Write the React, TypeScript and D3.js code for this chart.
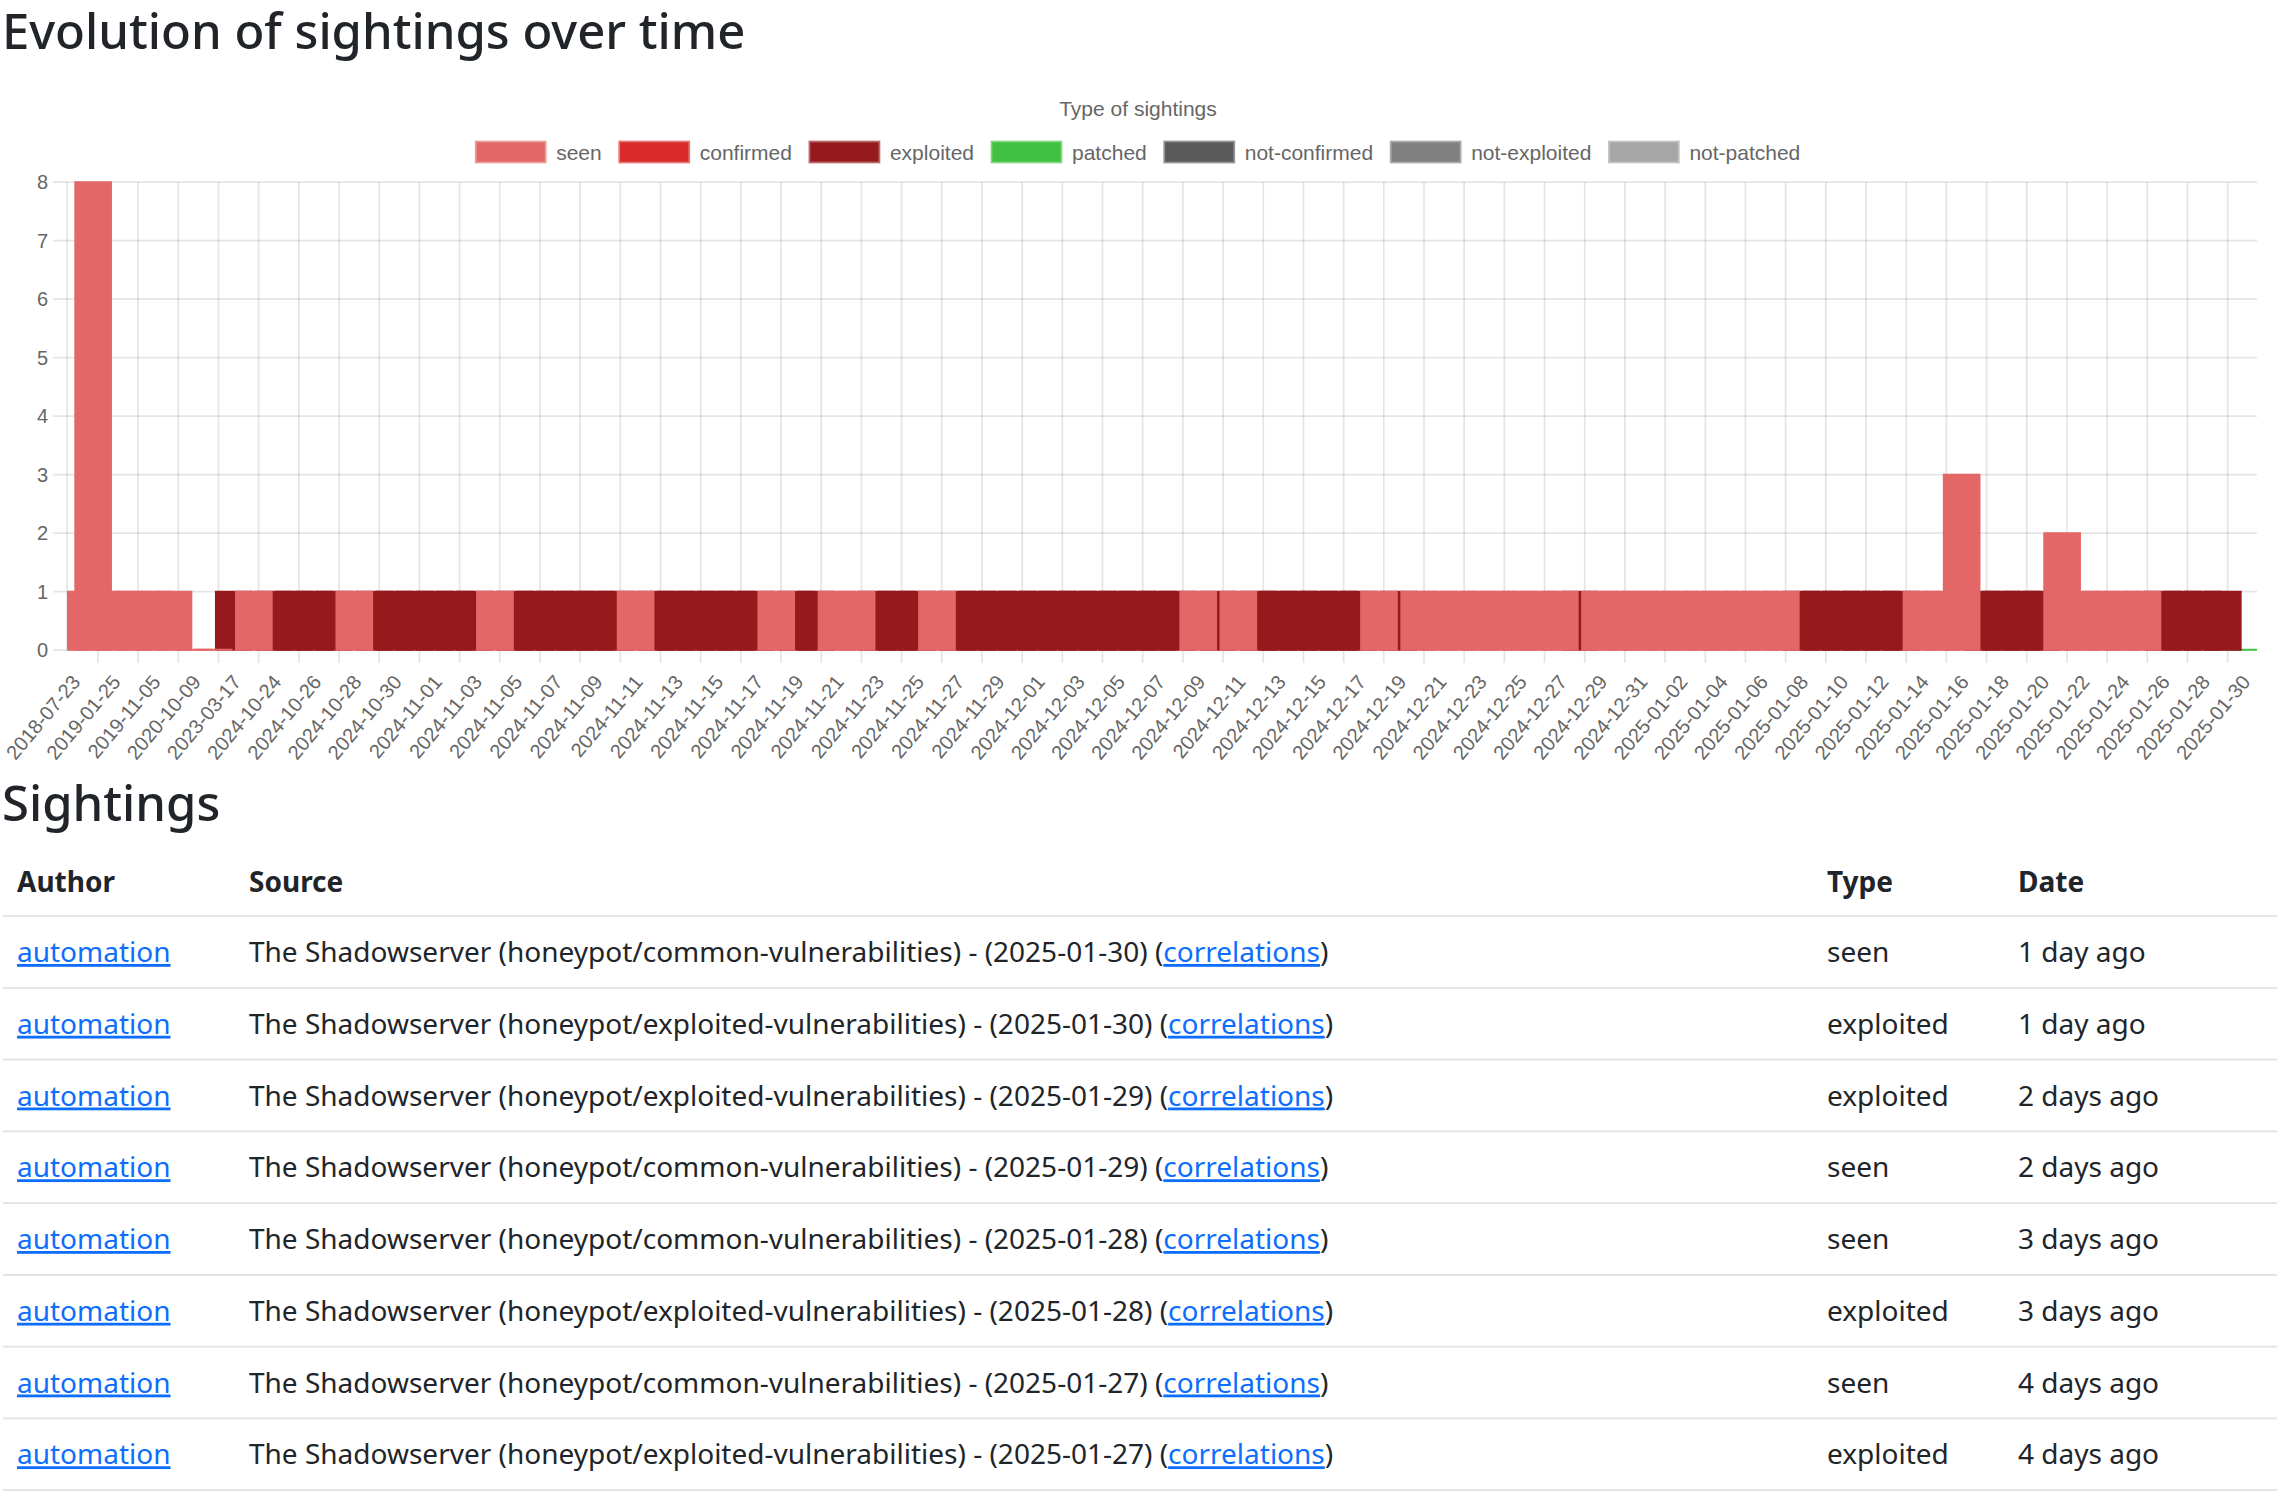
import React, { useEffect, useRef } from "react";
import * as d3 from "d3";

const WIDTH = 2282;
const HEIGHT = 1503;

// one slot per sighting date, in order; only every other slot gets a tick label
const SLOT_DATES = [
  "2018-07-23", "2018-10-02", "2019-01-25", "2019-06-20", "2019-11-05", "2020-04-15",
  "2020-10-09", "2022-01-12", "2023-03-17",
  "2024-10-23", "2024-10-24", "2024-10-25", "2024-10-26", "2024-10-27", "2024-10-28",
  "2024-10-29", "2024-10-30", "2024-10-31",
  "2024-11-01", "2024-11-02", "2024-11-03", "2024-11-04", "2024-11-05", "2024-11-06",
  "2024-11-07", "2024-11-08", "2024-11-09", "2024-11-10", "2024-11-11", "2024-11-12",
  "2024-11-13", "2024-11-14", "2024-11-15", "2024-11-16", "2024-11-17", "2024-11-18",
  "2024-11-19", "2024-11-20", "2024-11-21", "2024-11-22", "2024-11-23", "2024-11-24",
  "2024-11-25", "2024-11-26", "2024-11-27", "2024-11-28", "2024-11-29", "2024-11-30",
  "2024-12-01", "2024-12-02", "2024-12-03", "2024-12-04", "2024-12-05", "2024-12-06",
  "2024-12-07", "2024-12-08", "2024-12-09", "2024-12-10", "2024-12-11", "2024-12-12",
  "2024-12-13", "2024-12-14", "2024-12-15", "2024-12-16", "2024-12-17", "2024-12-18",
  "2024-12-19", "2024-12-20", "2024-12-21", "2024-12-22", "2024-12-23", "2024-12-24",
  "2024-12-25", "2024-12-26", "2024-12-27", "2024-12-28", "2024-12-29", "2024-12-30",
  "2024-12-31",
  "2025-01-01", "2025-01-02", "2025-01-03", "2025-01-04", "2025-01-05", "2025-01-06",
  "2025-01-07", "2025-01-08", "2025-01-09", "2025-01-10", "2025-01-11", "2025-01-12",
  "2025-01-13", "2025-01-14", "2025-01-15", "2025-01-16", "2025-01-17", "2025-01-18",
  "2025-01-19", "2025-01-20", "2025-01-21", "2025-01-22", "2025-01-23", "2025-01-24",
  "2025-01-25", "2025-01-26", "2025-01-27", "2025-01-28", "2025-01-29", "2025-01-30",
];

const SEEN: [string, number][] = [
  ["2018-07-23", 1], ["2018-10-02", 8], ["2019-01-25", 1], ["2019-06-20", 1],
  ["2019-11-05", 1], ["2020-04-15", 1], ["2020-10-09", 0], ["2022-01-12", 0],
  ["2024-10-23", 1], ["2024-10-28", 1], ["2024-11-04", 1], ["2024-11-11", 1],
  ["2024-11-18", 1], ["2024-11-21", 1], ["2024-11-22", 1], ["2024-11-26", 1],
  ["2024-12-09", 1], ["2024-12-11", 1], ["2024-12-18", 1],
  ["2024-12-20", 1], ["2024-12-21", 1], ["2024-12-22", 1], ["2024-12-23", 1],
  ["2024-12-24", 1], ["2024-12-25", 1], ["2024-12-26", 1], ["2024-12-27", 1],
  ["2024-12-29", 1], ["2024-12-30", 1], ["2024-12-31", 1],
  ["2025-01-01", 1], ["2025-01-02", 1], ["2025-01-03", 1], ["2025-01-04", 1],
  ["2025-01-05", 1], ["2025-01-06", 1], ["2025-01-07", 1],
  ["2025-01-14", 1], ["2025-01-15", 1], ["2025-01-16", 3],
  ["2025-01-21", 2], ["2025-01-22", 1], ["2025-01-23", 1], ["2025-01-24", 1], ["2025-01-25", 1],
];

const EXPLOITED: [string, number][] = [
  ["2023-03-17", 1],
  ["2024-10-24", 1], ["2024-10-25", 1], ["2024-10-26", 1], ["2024-10-27", 1],
  ["2024-10-29", 1], ["2024-10-30", 1], ["2024-10-31", 1], ["2024-11-01", 1],
  ["2024-11-02", 1], ["2024-11-03", 1],
  ["2024-11-05", 1], ["2024-11-06", 1], ["2024-11-07", 1], ["2024-11-08", 1],
  ["2024-11-09", 1], ["2024-11-10", 1],
  ["2024-11-12", 1], ["2024-11-13", 1], ["2024-11-14", 1], ["2024-11-15", 1],
  ["2024-11-16", 1], ["2024-11-17", 1],
  ["2024-11-19", 1], ["2024-11-20", 1],
  ["2024-11-23", 1], ["2024-11-24", 1], ["2024-11-25", 1],
  ["2024-11-27", 1], ["2024-11-28", 1], ["2024-11-29", 1], ["2024-11-30", 1],
  ["2024-12-01", 1], ["2024-12-02", 1], ["2024-12-03", 1], ["2024-12-04", 1],
  ["2024-12-05", 1], ["2024-12-06", 1], ["2024-12-07", 1], ["2024-12-08", 1],
  ["2024-12-10", 1],
  ["2024-12-12", 1], ["2024-12-13", 1], ["2024-12-14", 1], ["2024-12-15", 1],
  ["2024-12-16", 1], ["2024-12-17", 1],
  ["2024-12-19", 1], ["2024-12-28", 1],
  ["2025-01-08", 1], ["2025-01-09", 1], ["2025-01-10", 1], ["2025-01-11", 1],
  ["2025-01-12", 1], ["2025-01-13", 1],
  ["2025-01-17", 1], ["2025-01-18", 1], ["2025-01-19", 1], ["2025-01-20", 1],
  ["2025-01-26", 1], ["2025-01-27", 1], ["2025-01-28", 1], ["2025-01-29", 1],
];

const PATCHED: [string, number][] = [["2025-01-29", 0], ["2025-01-30", 0]];

const SERIES = [
  { name: "seen", color: "#e36767", data: SEEN },
  { name: "confirmed", color: "#d92929", data: [] as [string, number][] },
  { name: "exploited", color: "#961a1d", data: EXPLOITED },
  { name: "patched", color: "#41c141", data: PATCHED },
  { name: "not-confirmed", color: "#595959", data: [] as [string, number][] },
  { name: "not-exploited", color: "#808080", data: [] as [string, number][] },
  { name: "not-patched", color: "#a6a6a6", data: [] as [string, number][] },
];

const Y_TICKS = [0, 1, 2, 3, 4, 5, 6, 7, 8];

// table below the chart
const ROW_FEEDS = [
  "common-vulnerabilities", "exploited-vulnerabilities", "exploited-vulnerabilities",
  "common-vulnerabilities", "common-vulnerabilities", "exploited-vulnerabilities",
  "common-vulnerabilities", "exploited-vulnerabilities",
];
const ROW_DATES = [
  "2025-01-30", "2025-01-30", "2025-01-29", "2025-01-29",
  "2025-01-28", "2025-01-28", "2025-01-27", "2025-01-27",
];
const ROW_TYPES = ["seen", "exploited", "exploited", "seen", "seen", "exploited", "seen", "exploited"];
const ROW_AGES = [
  "1 day ago", "1 day ago", "2 days ago", "2 days ago",
  "3 days ago", "3 days ago", "4 days ago", "4 days ago",
];

const CHART_FONT = "'Liberation Sans', Arial, Helvetica, sans-serif";
const PAGE_FONT = "'Noto Sans', sans-serif";
const PLOT = { left: 67, right: 2257, top: 182, bottom: 650 };
const TICK_FONT = 20;
const LEGEND_FONT = 21;

export default function App() {
  const ref = useRef<SVGSVGElement>(null);

  useEffect(() => {
    if (!ref.current) return;
    const svg = d3.select(ref.current);
    svg.selectAll("*").remove();

    // heading
    svg.append("text")
      .attr("x", 2).attr("y", 49)
      .attr("font-family", PAGE_FONT).attr("font-size", 49).attr("font-weight", 500)
      .attr("fill", "#212529")
      .text("Evolution of sightings over time");

    // ---- chart ----
    const slotIndex = new Map(SLOT_DATES.map((d, i) => [d, i]));
    const x = d3.scaleLinear()
      .domain([-0.3, SLOT_DATES.length - 0.3])
      .range([PLOT.left, PLOT.right]);
    const step = x(1) - x(0);
    const barW = step * 1.8;
    const y = d3.scaleLinear().domain([0, 8]).range([PLOT.bottom, PLOT.top]);

    const grid = "rgba(0,0,0,0.1)";
    const g = svg.append("g");

    // horizontal grid + y labels
    g.selectAll("line.hgrid")
      .data(Y_TICKS)
      .enter()
      .append("line")
      .attr("x1", PLOT.left - 14).attr("x2", PLOT.right)
      .attr("y1", (d) => y(d)).attr("y2", (d) => y(d))
      .attr("stroke", grid).attr("stroke-width", 1.75);

    g.selectAll("text.ytick")
      .data(Y_TICKS)
      .enter()
      .append("text")
      .attr("x", PLOT.left - 19)
      .attr("y", (d) => y(d))
      .attr("text-anchor", "end")
      .attr("dominant-baseline", "central")
      .attr("font-family", CHART_FONT).attr("font-size", TICK_FONT)
      .attr("fill", "#666")
      .text((d) => d);

    // vertical grid at labelled slots (sits a bit left of the slot, as in the original)
    const labelled = SLOT_DATES.map((d, i) => ({ d, i })).filter((s) => s.i % 2 === 0);
    const gridX = (i: number) => x(i) - 0.76 * step;

    g.append("line")
      .attr("x1", PLOT.left).attr("x2", PLOT.left)
      .attr("y1", PLOT.top).attr("y2", PLOT.bottom)
      .attr("stroke", grid).attr("stroke-width", 1.75);

    g.selectAll("line.vgrid")
      .data(labelled.filter((s) => gridX(s.i) > PLOT.left))
      .enter()
      .append("line")
      .attr("x1", (s) => gridX(s.i)).attr("x2", (s) => gridX(s.i))
      .attr("y1", PLOT.top).attr("y2", PLOT.bottom + 13)
      .attr("stroke", grid).attr("stroke-width", 1.75);

    g.selectAll("text.xtick")
      .data(labelled)
      .enter()
      .append("text")
      .attr("transform", (s) => `translate(${x(s.i) + 3},${PLOT.bottom + 28}) rotate(-50)`)
      .attr("text-anchor", "end")
      .attr("dominant-baseline", "central")
      .attr("font-family", CHART_FONT).attr("font-size", TICK_FONT)
      .attr("fill", "#666")
      .text((s) => s.d);

    // bars, clipped to the plot area; first dataset is drawn last (on top)
    svg.append("defs")
      .append("clipPath").attr("id", "plot-clip")
      .append("rect")
      .attr("x", PLOT.left).attr("y", 0)
      .attr("width", PLOT.right - PLOT.left).attr("height", PLOT.bottom + 2);

    const bars = svg.append("g").attr("clip-path", "url(#plot-clip)");
    [...SERIES].reverse().forEach((s) => {
      bars.selectAll(null)
        .data(s.data)
        .enter()
        .append("rect")
        .attr("x", (d) => x(slotIndex.get(d[0]) as number) - barW / 2)
        .attr("y", (d) => y(d[1]) - (d[1] === 0 ? 0.5 : 0))
        .attr("width", barW)
        // zero-valued bars still show their border as a thin line
        .attr("height", (d) => Math.max(y(0) - y(d[1]), 0.5))
        .attr("fill", s.color)
        .attr("stroke", s.color)
        .attr("stroke-width", 1.5);
    });

    // legend
    const legendCx = 1138;
    svg.append("text")
      .attr("x", legendCx).attr("y", 108)
      .attr("text-anchor", "middle").attr("dominant-baseline", "central")
      .attr("font-family", CHART_FONT).attr("font-size", LEGEND_FONT)
      .attr("fill", "#666")
      .text("Type of sightings");

    const legend = svg.append("g");
    const legendY = 152;
    const boxW = 70;
    const boxH = 21;
    const pad = 17.5;
    const items = SERIES.map((s) => {
      const item = legend.append("g");
      item.append("rect")
        .attr("width", boxW).attr("height", boxH)
        .attr("y", legendY - boxH / 2)
        .attr("fill", s.color)
        .attr("stroke", d3.interpolateRgb(s.color, "#fff")(0.35))
        .attr("stroke-width", 1.75);
      const t = item.append("text")
        .attr("x", boxW + 10.5).attr("y", legendY)
        .attr("dominant-baseline", "central")
        .attr("font-family", CHART_FONT).attr("font-size", LEGEND_FONT)
        .attr("fill", "#666")
        .text(s.name);
      const w = boxW + 10.5 + (t.node() as SVGTextElement).getComputedTextLength();
      return { item, w };
    });
    const total = d3.sum(items, (d) => d.w) + pad * (items.length - 1);
    let cursor = legendCx - total / 2;
    items.forEach(({ item, w }) => {
      item.attr("transform", `translate(${cursor},0)`);
      cursor += w + pad;
    });

    // ---- sightings table ----
    svg.append("text")
      .attr("x", 2).attr("y", 821)
      .attr("font-family", PAGE_FONT).attr("font-size", 49).attr("font-weight", 500)
      .attr("fill", "#212529")
      .text("Sightings");

    const cols = [17, 249, 1827, 2018];
    const headers = ["Author", "Source", "Type", "Date"];
    const rowH = 71.75;
    const headBorder = 916;

    svg.selectAll("text.th")
      .data(headers)
      .enter()
      .append("text")
      .attr("x", (_, i) => cols[i]).attr("y", 892)
      .attr("font-family", PAGE_FONT).attr("font-size", 28).attr("font-weight", 700)
      .attr("fill", "#212529")
      .text((d) => d);

    const borders = d3.range(ROW_TYPES.length + 1).map((k) => headBorder + k * rowH);
    svg.selectAll("line.rowline")
      .data(borders)
      .enter()
      .append("line")
      .attr("x1", 3).attr("x2", 2277)
      .attr("y1", (d) => d).attr("y2", (d) => d)
      .attr("stroke", "#dee2e6").attr("stroke-width", 1.75);

    const link = "#0d6efd";
    ROW_TYPES.forEach((type, k) => {
      const base = headBorder + 46 + k * rowH;
      const txt = (xx: number) =>
        svg.append("text")
          .attr("x", xx).attr("y", base)
          .attr("font-family", PAGE_FONT).attr("font-size", 28)
          .attr("fill", "#212529");

      txt(cols[0]).append("tspan")
        .attr("fill", link).style("text-decoration", "underline")
        .text("automation");

      const src = txt(cols[1]);
      src.append("tspan").text(`The Shadowserver (honeypot/${ROW_FEEDS[k]}) - (${ROW_DATES[k]}) (`);
      src.append("tspan").attr("fill", link).style("text-decoration", "underline").text("correlations");
      src.append("tspan").text(")");

      txt(cols[2]).text(type);
      txt(cols[3]).text(ROW_AGES[k]);
    });
  }, []);

  return (
    <svg
      ref={ref}
      width={WIDTH}
      height={HEIGHT}
      style={{ position: "absolute", left: 0, top: 0, background: "#fff", display: "block" }}
    />
  );
}
